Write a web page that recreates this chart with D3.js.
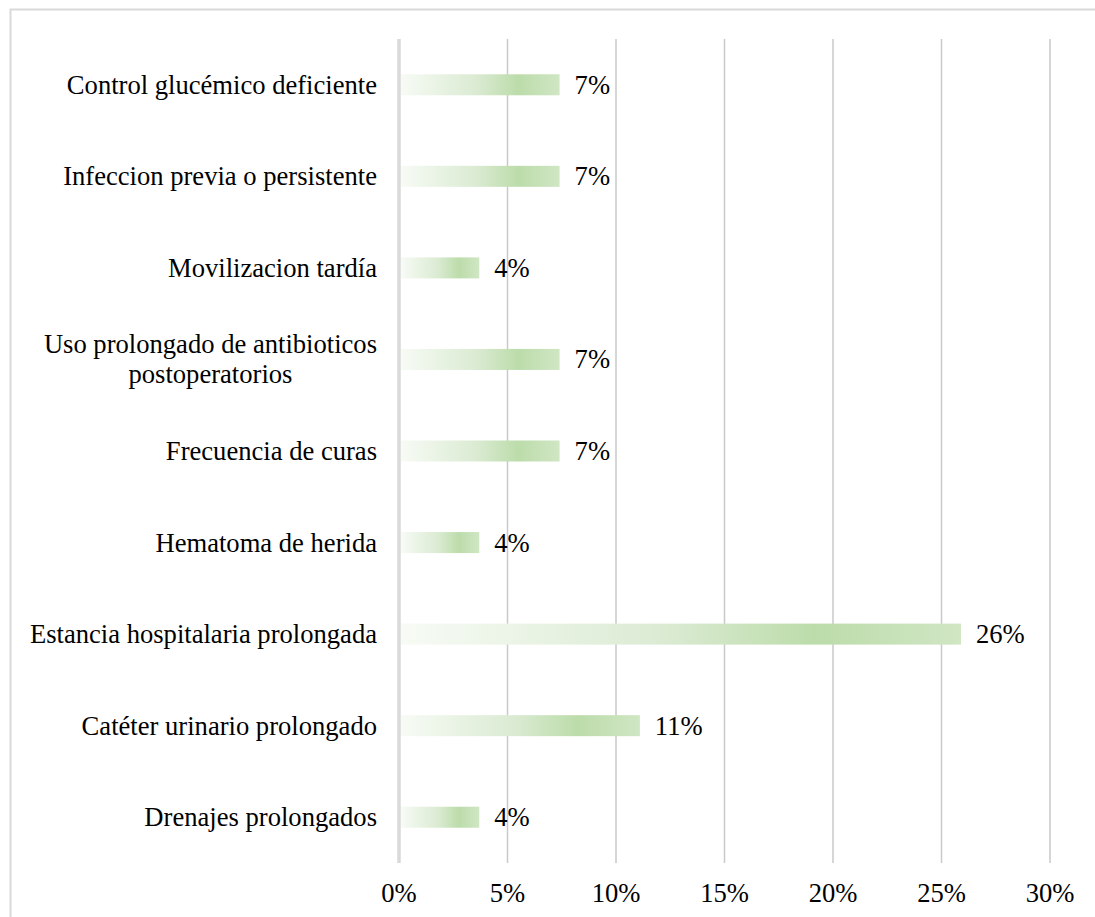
<!DOCTYPE html>
<html>
<head>
<meta charset="utf-8">
<script src="https://cdn.jsdelivr.net/npm/d3@7"></script>
<style>
  body { margin: 0; background: #fff; }
</style>
</head>
<body>
<svg width="1095" height="917"></svg>
<script>
// categories top to bottom, values in percent (n = 27)
var categories = [
  "Control glucémico deficiente",
  "Infeccion previa o persistente",
  "Movilizacion tardía",
  "Uso prolongado de antibioticos|postoperatorios",
  "Frecuencia de curas",
  "Hematoma de herida",
  "Estancia hospitalaria prolongada",
  "Catéter urinario prolongado",
  "Drenajes prolongados"
];
var values = [7.4, 7.4, 3.7, 7.4, 7.4, 3.7, 25.9, 11.1, 3.7];
var valueLabels = ["7%", "7%", "4%", "7%", "7%", "4%", "26%", "11%", "4%"];
var ticks = [0, 5, 10, 15, 20, 25, 30];

var FONT = "'Liberation Serif', serif";

var svg = d3.select("svg"),
    width = +svg.attr("width"),
    height = +svg.attr("height");

var plotL = 399, plotR = 1050, plotT = 39, plotB = 863;

// outer chart frame (only top and left edges visible)
svg.append("path")
    .attr("d", "M10.5,917V9.5H1095")
    .attr("fill", "none")
    .attr("stroke", "#d9d9d9")
    .attr("stroke-width", 2);

var x = d3.scaleLinear().domain([0, 30]).range([plotL, plotR]);
var y = d3.scaleBand().domain(categories).range([plotT, plotB]).padding(0);

var defs = svg.append("defs");
var grad = defs.append("linearGradient")
    .attr("id", "barGrad")
    .attr("x1", "0").attr("x2", "1").attr("y1", "0").attr("y2", "0");
[[0, "#f7fbf5"], [0.47, "#dbebd3"], [0.74, "#bcdcaa"], [1, "#d0e6c4"]].forEach(function(s) {
  grad.append("stop").attr("offset", s[0]).attr("stop-color", s[1]);
});

// grid lines
svg.append("g").selectAll("line")
    .data(ticks.slice(1))
  .enter().append("line")
    .attr("x1", function(d) { return x(d); })
    .attr("x2", function(d) { return x(d); })
    .attr("y1", plotT)
    .attr("y2", plotB)
    .attr("stroke", "#c9c9c9")
    .attr("stroke-width", 1.5);

// tick labels
svg.append("g").selectAll("text")
    .data(ticks)
  .enter().append("text")
    .attr("x", function(d) { return x(d); })
    .attr("y", 902)
    .attr("text-anchor", "middle")
    .style("font-family", FONT)
    .style("font-size", "26.6px")
    .text(function(d) { return d + "%"; });

var barH = 21;

// bars
svg.append("g").selectAll("rect")
    .data(values)
  .enter().append("rect")
    .attr("x", x(0) + 2)
    .attr("y", function(d, i) { return y(categories[i]) + y.bandwidth() / 2 - barH / 2; })
    .attr("width", function(d) { return x(d) - x(0) - 2; })
    .attr("height", barH)
    .attr("fill", "url(#barGrad)");

// zero axis line
svg.append("line")
    .attr("x1", x(0)).attr("x2", x(0))
    .attr("y1", plotT).attr("y2", plotB)
    .attr("stroke", "#d9d9d9")
    .attr("stroke-width", 3.5);

// value labels
svg.append("g").selectAll("text")
    .data(values)
  .enter().append("text")
    .attr("x", function(d) { return x(d) + 15; })
    .attr("y", function(d, i) { return y(categories[i]) + y.bandwidth() / 2 + 9; })
    .style("font-family", FONT)
    .style("font-size", "26.6px")
    .text(function(d, i) { return valueLabels[i]; });

// category labels (multi-line ones centred on their widest line)
var cat = svg.append("g").selectAll("text")
    .data(categories)
  .enter().append("text")
    .style("font-family", FONT)
    .style("font-size", "26.6px")
    .attr("text-anchor", "middle");

cat.each(function(d) {
  var t = d3.select(this),
      lines = d.split("|"),
      cy = y(d) + y.bandwidth() / 2,
      lh = 30;
  lines.forEach(function(l, k) {
    t.append("tspan")
      .attr("y", cy + 9 + (k - (lines.length - 1) / 2) * lh)
      .text(l);
  });
  var maxW = 0;
  t.selectAll("tspan").each(function() { maxW = Math.max(maxW, this.getComputedTextLength()); });
  t.selectAll("tspan").attr("x", 377 - maxW / 2);
});
</script>
</body>
</html>
